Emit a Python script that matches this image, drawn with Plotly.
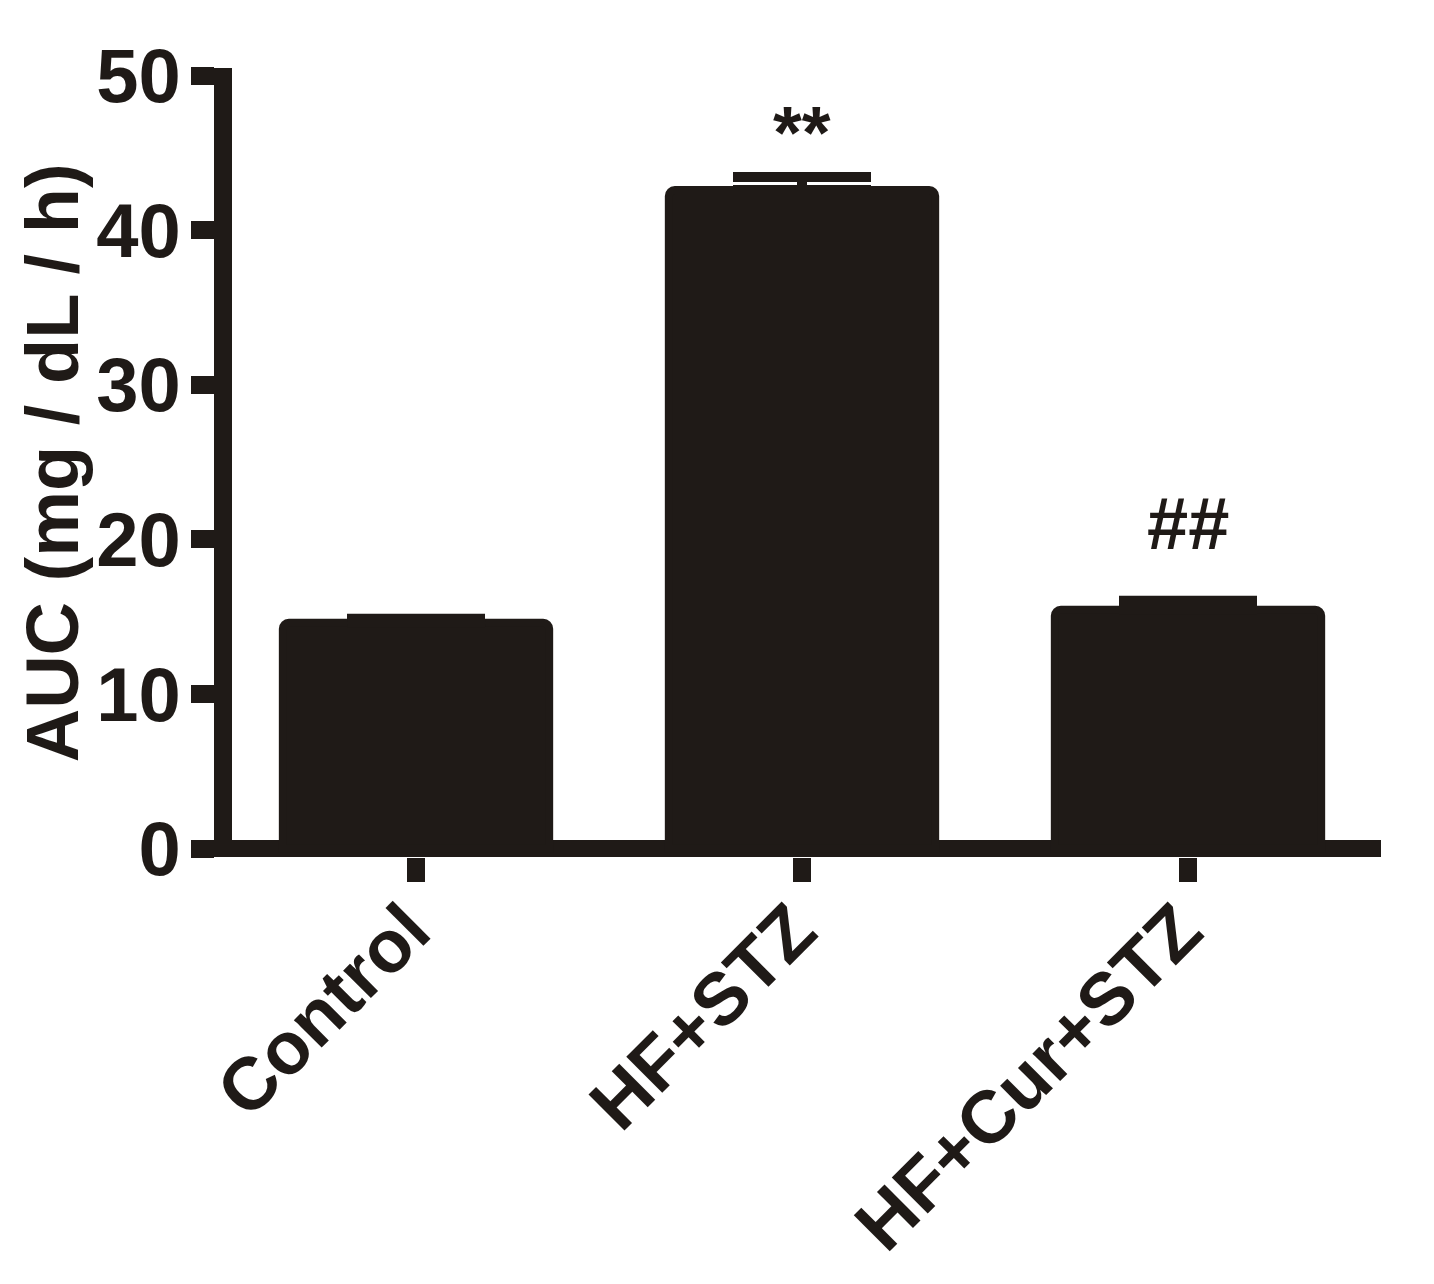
import plotly.graph_objects as go

# AUC of the glucose tolerance curve, mean +/- SEM per group
GROUPS = ["Control", "HF+STZ", "HF+Cur+STZ"]
AUC_MEAN = [14.6, 42.6, 15.45]
AUC_SEM = [0.27, 0.85, 0.58]
SIG_MARKS = ["", "**", "##"]
SIG_Y = [None, 46.3, 21.0]
Y_TICKS = [0, 10, 20, 30, 40, 50]

INK = "#1f1a17"
FONT = "Arial, Liberation Sans, sans-serif"

fig = go.Figure()
fig.add_trace(go.Bar(
    x=GROUPS, y=AUC_MEAN, width=0.69,
    marker=dict(color=INK, cornerradius=6, line=dict(width=8, color=INK)),
    error_y=dict(type="data", array=AUC_SEM, symmetric=False,
                 arrayminus=[0] * len(AUC_SEM),
                 color=INK, thickness=10, width=69),
    showlegend=False,
))

for g, mark, yv in zip(GROUPS, SIG_MARKS, SIG_Y):
    if mark:
        fig.add_annotation(x=g, y=yv, text=mark, showarrow=False,
                           yanchor="middle",
                           font=dict(family=FONT, size=74, color=INK, weight="bold"))

# y title as a rotated annotation so it can sit right against the tick labels
fig.add_annotation(x=-0.156, y=0.5, xref="paper", yref="paper",
                   text="AUC (mg / dL / h)", textangle=-90, showarrow=False,
                   xanchor="center", yanchor="middle",
                   font=dict(family=FONT, size=74, color=INK, weight="bold"))

fig.update_xaxes(
    type="category", range=[-0.4767, 2.5], automargin=False,
    showline=False, showgrid=False, zeroline=False,
    ticks="outside", ticklen=24, tickwidth=18, tickcolor=INK,
    tickangle=-45, ticklabelstandoff=-25, ticklabelshift=-8,
    tickfont=dict(family=FONT, size=74, color=INK, weight="bold"),
)
fig.update_yaxes(
    range=[-0.55, 50.5], tickvals=Y_TICKS, automargin=False,
    showline=True, linewidth=18, linecolor=INK,
    showgrid=False, zeroline=True, zerolinewidth=17, zerolinecolor=INK,
    ticks="outside", ticklen=23, tickwidth=18, tickcolor=INK,
    ticklabelstandoff=-5,
    tickfont=dict(family=FONT, size=76, color=INK, weight="bold"),
)

fig.update_layout(
    width=1434, height=1284,
    margin=dict(l=224, r=61, t=60, b=435, pad=0),
    plot_bgcolor="white", paper_bgcolor="white",
)

fig.write_html("out.html")
